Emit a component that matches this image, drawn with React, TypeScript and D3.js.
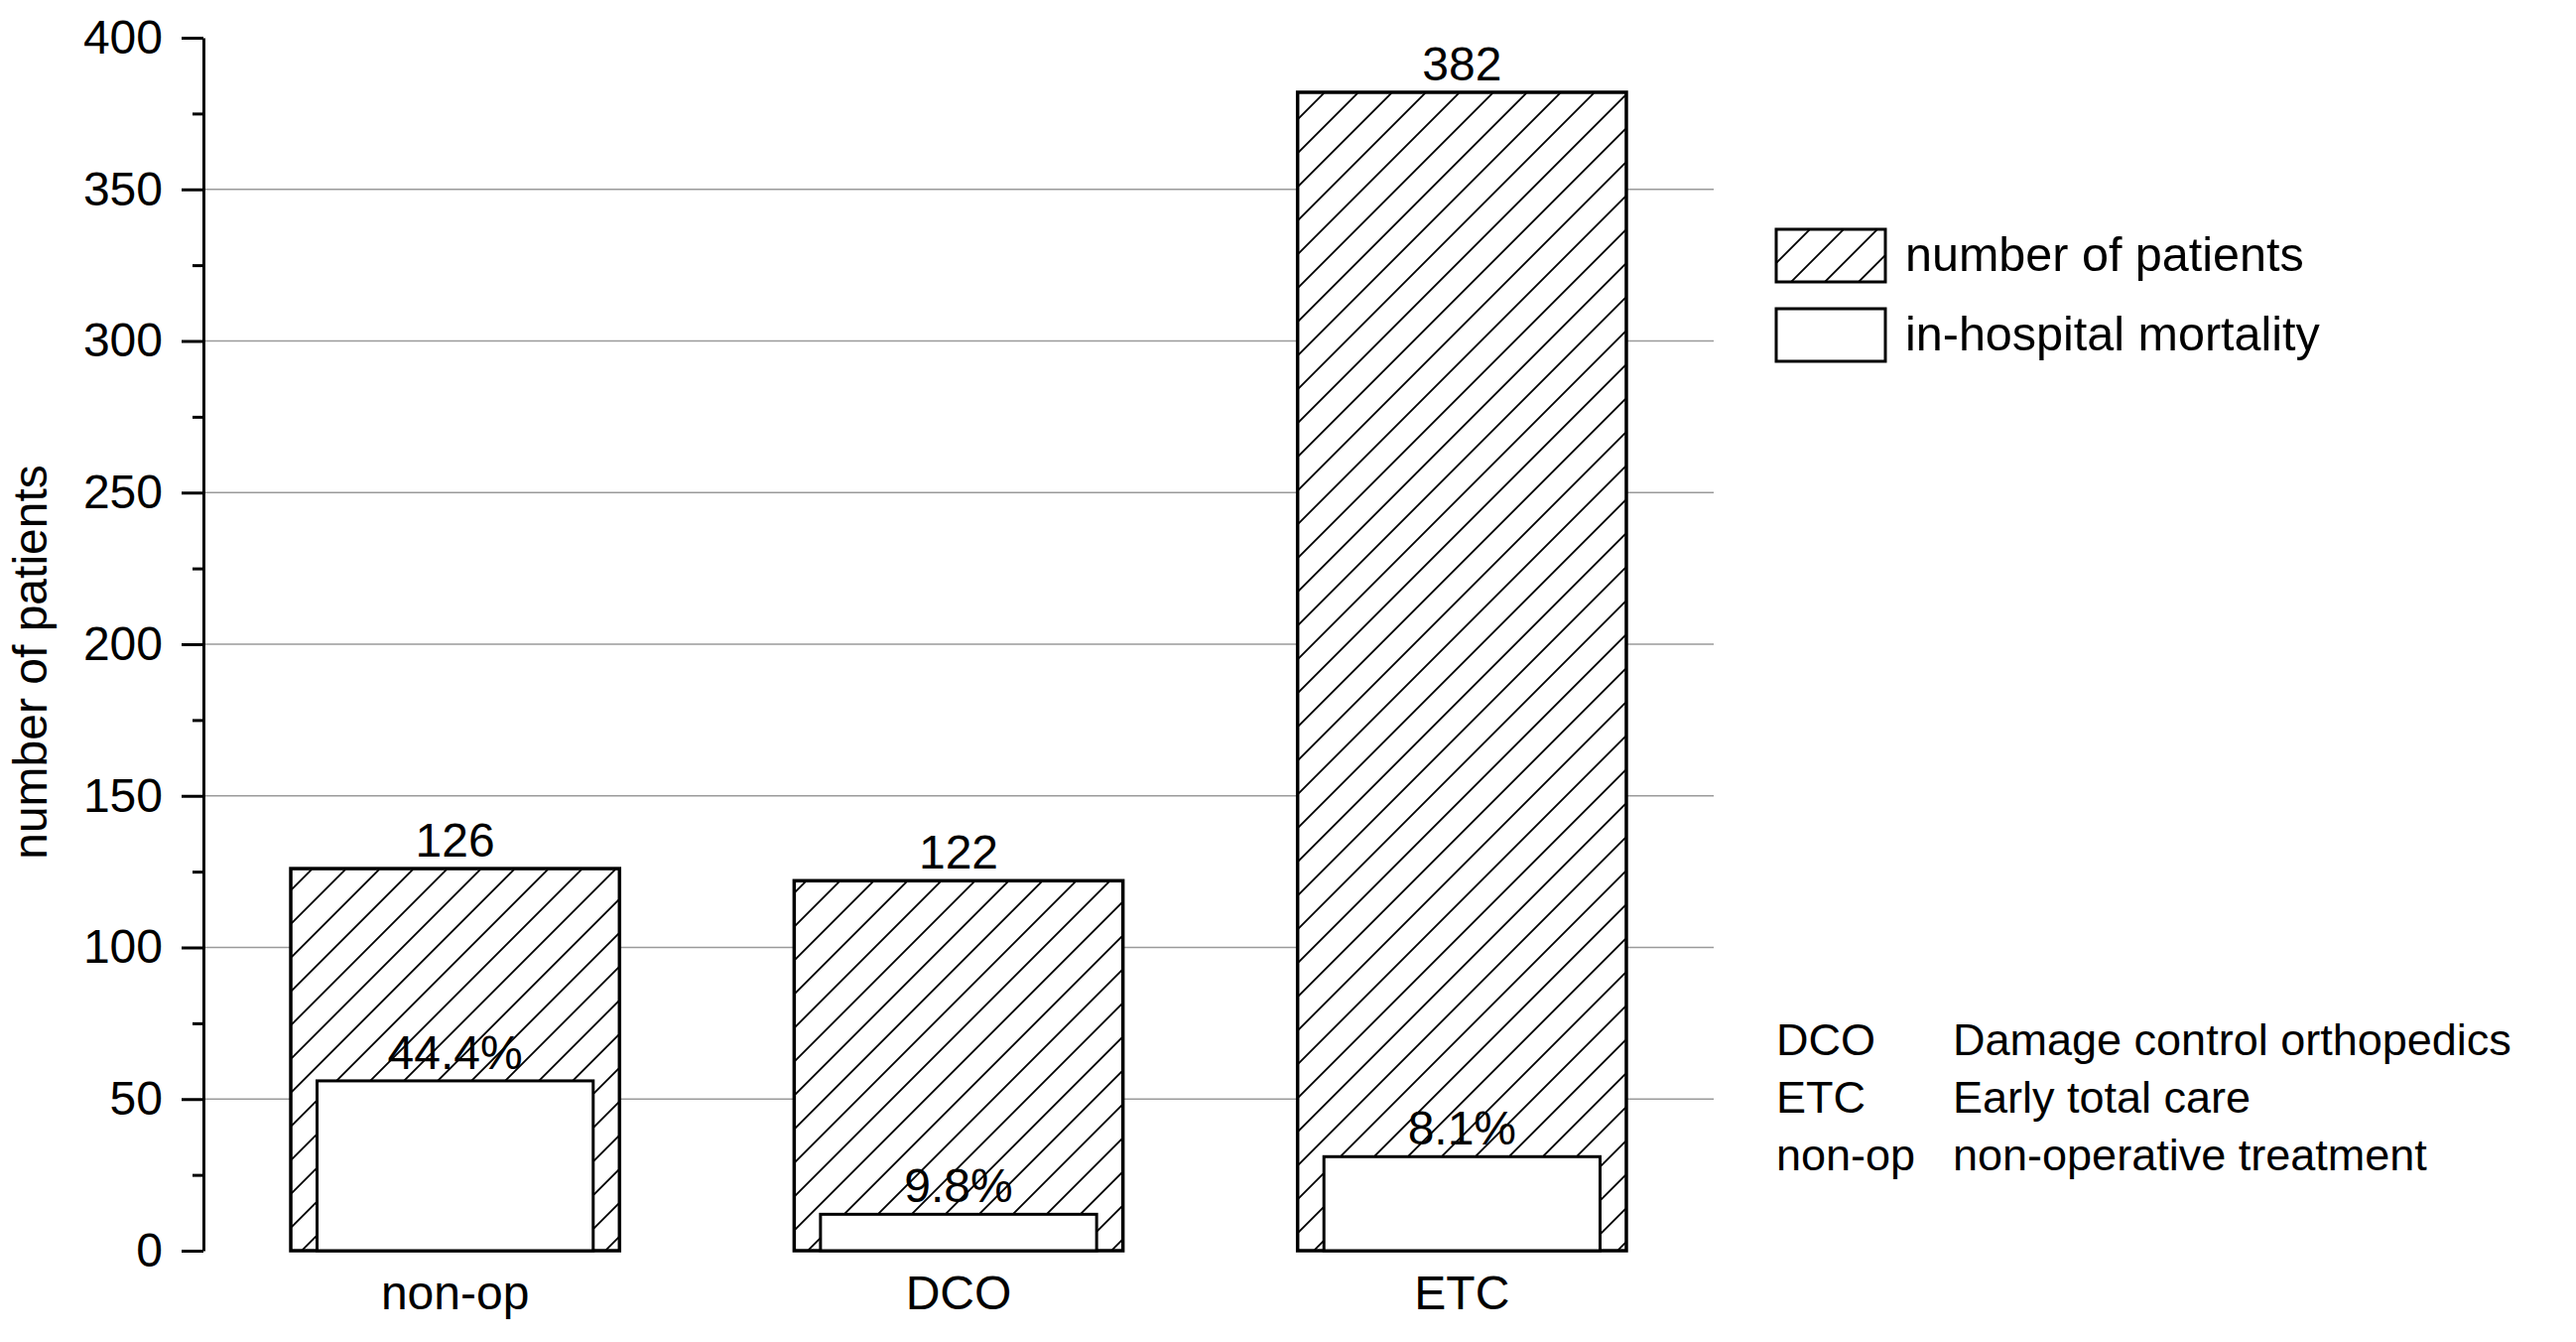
import { axisLeft, range, scaleBand, scaleLinear, select } from 'd3'
import React, { useEffect, useRef } from 'react'

const categories = ['non-op', 'DCO', 'ETC']
const patients = [126, 122, 382]
const deaths = [56, 12, 31]
const mortalityLabels = ['44.4%', '9.8%', '8.1%']
const majorTicks = [0, 50, 100, 150, 200, 250, 300, 350, 400]
const gridTicks = [50, 100, 150, 200, 250, 300, 350]
const legendItems = ['number of patients', 'in-hospital mortality']
const abbrevs = ['DCO', 'ETC', 'non-op']
const abbrevMeanings = [
  'Damage control orthopedics',
  'Early total care',
  'non-operative treatment',
]

const FONT = "'Liberation Sans', Arial, Helvetica, sans-serif"

function App() {
  const axisRef = useRef()

  const width = 2596
  const height = 1352
  const left = 205
  const right = 1727
  const top = 38
  const bottom = 1260

  const y = scaleLinear().domain([0, 400]).range([bottom, top])
  const x = scaleBand()
    .domain(categories)
    .range([left, right])
    .paddingInner(0.347)
    .paddingOuter(0.1735)
  const bw = x.bandwidth()
  const innerW = bw * 0.84

  useEffect(() => {
    const g = select(axisRef.current)
    g.selectAll('*').remove()

    // minor ticks first so the major axis sits on top
    const minor = g.append('g')
    minor.call(
      axisLeft(y)
        .tickValues(range(25, 400, 50))
        .tickSize(11)
        .tickSizeOuter(0)
        .tickFormat(() => '')
    )
    minor.select('.domain').remove()

    const major = g.append('g')
    major.call(
      axisLeft(y).tickValues(majorTicks).tickSize(22).tickSizeOuter(0).tickPadding(19)
    )

    g.selectAll('line').attr('stroke', '#000').attr('stroke-width', 3)
    g.selectAll('.domain').attr('stroke', '#000').attr('stroke-width', 3)
    g.selectAll('text')
      .attr('fill', '#000')
      .style('font-family', FONT)
      .style('font-size', '48px')
  }, [])

  return (
    <svg
      width={width}
      height={height}
      style={{ position: 'absolute', left: 0, top: 0, background: '#fff' }}
      fontFamily={FONT}
    >
      <defs>
        <pattern
          id="hatch"
          patternUnits="userSpaceOnUse"
          width="34"
          height="34"
        >
          <rect width="34" height="34" fill="#fff" />
          <path
            d="M0,34 L34,0 M-8.5,8.5 L8.5,-8.5 M25.5,42.5 L42.5,25.5"
            stroke="#000"
            strokeWidth="1.8"
          />
        </pattern>
      </defs>

      <rect width={width} height={height} fill="#fff" />

      <g className="grid">
        {gridTicks.map((t) => (
          <line
            key={t}
            x1={left}
            x2={right}
            y1={y(t)}
            y2={y(t)}
            stroke="#9a9a9a"
            strokeWidth="1.6"
          />
        ))}
      </g>

      <g className="bars">
        {categories.map((c, i) => {
          const x0 = x(c)
          const cx = x0 + bw / 2
          return (
            <g key={c}>
              <rect
                x={x0}
                y={y(patients[i])}
                width={bw}
                height={y(0) - y(patients[i])}
                fill="url(#hatch)"
                stroke="#000"
                strokeWidth="3.5"
              />
              <rect
                x={cx - innerW / 2}
                y={y(deaths[i])}
                width={innerW}
                height={y(0) - y(deaths[i])}
                fill="#fff"
                stroke="#000"
                strokeWidth="3"
              />
              <text
                x={cx}
                y={y(patients[i]) - 12}
                textAnchor="middle"
                fontSize="48"
              >
                {patients[i]}
              </text>
              <text
                x={cx}
                y={y(deaths[i]) - 12}
                textAnchor="middle"
                fontSize="48"
              >
                {mortalityLabels[i]}
              </text>
              <text x={cx} y={bottom + 59} textAnchor="middle" fontSize="48">
                {c}
              </text>
            </g>
          )
        })}
      </g>

      <g ref={axisRef} transform={`translate(${left},0)`} />

      <text
        transform={`translate(47,${(top + bottom) / 2 + 18}) rotate(-90)`}
        textAnchor="middle"
        fontSize="48"
      >
        number of patients
      </text>

      <g className="legend">
        {legendItems.map((label, i) => (
          <g key={label} transform={`translate(1790,${231 + i * 80})`}>
            <rect
              x="0"
              y="0"
              width="110"
              height="53"
              fill={i === 0 ? 'url(#hatch)' : '#fff'}
              stroke="#000"
              strokeWidth="3"
            />
            <text x="130" y="42" fontSize="48.5">
              {label}
            </text>
          </g>
        ))}
      </g>

      <g className="abbrev">
        {abbrevs.map((a, i) => (
          <g key={a}>
            <text x="1790" y={1063 + i * 58} fontSize="45">
              {a}
            </text>
            <text x="1968" y={1063 + i * 58} fontSize="45">
              {abbrevMeanings[i]}
            </text>
          </g>
        ))}
      </g>
    </svg>
  )
}

export default App
